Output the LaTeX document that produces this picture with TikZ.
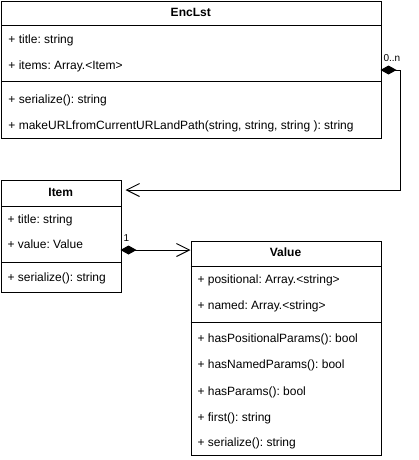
\documentclass[tikz,border=0pt]{standalone}
\usepackage{fontspec}
\setmainfont{Liberation Sans}
\usetikzlibrary{arrows.meta}
\frenchspacing
\begin{document}
\begin{tikzpicture}[x=1pt,y=-1pt,line width=1pt,
  classbox/.style={draw,rectangle,anchor=north west,inner sep=0pt},
  row/.style={anchor=west,inner sep=0pt,font=\fontsize{12pt}{14pt}\selectfont,text height=8.6pt,text depth=2.6pt},
  head/.style={inner sep=0pt,font=\fontsize{12pt}{14pt}\selectfont\bfseries,text height=8.6pt,text depth=2.6pt},
  mult/.style={inner sep=0pt,font=\fontsize{10pt}{12pt}\selectfont},
  comp/.style={{Diamond[length=16pt,width=9pt]}-{Straight Barb[length=13pt,width=13pt]}}]
\useasboundingbox (0,0) rectangle (418,460);
% EncLst
\node[classbox,minimum width=379.5pt,minimum height=137pt] (enc) at (1,1) {};
\draw (1,26) -- (380.5,26);
\draw (1,81) -- (380.5,81);
\node[head] (enchead) at (190.75,13.5) {EncLst};
\node[row] (etitle) at (8,41) {+ title: string};
\node[row] (eitems) at (8,67) {+ items: Array.<Item>};
\node[row] (eser) at (8,100) {+ serialize(): string};
\node[row] (eurl) at (8,126) {+ makeURLfromCurrentURLandPath(string, string, string ): string};
% Item
\node[classbox,minimum width=119.5pt,minimum height=112pt] (item) at (1,180) {};
\draw (1,206) -- (120.5,206);
\draw (1,262) -- (120.5,262);
\node[head] (itemhead) at (60.75,193) {Item};
\node[row] (ititle) at (7,220) {+ title: string};
\node[row] (ivalue) at (7,245) {+ value: Value};
\node[row] (iser) at (7,278) {+ serialize(): string};
% Value
\node[classbox,minimum width=190pt,minimum height=214.5pt] (value) at (190.5,240.5) {};
\draw (190.5,266) -- (380.5,266);
\draw (190.5,322) -- (380.5,322);
\node[head] (valhead) at (285.5,253.5) {Value};
\node[row] (vpos) at (197,280) {+ positional: Array.<string>};
\node[row] (vnamed) at (197,306) {+ named: Array.<string>};
\node[row] (vhpp) at (197,339) {+ hasPositionalParams(): bool};
\node[row] (vhnp) at (197,365) {+ hasNamedParams(): bool};
\node[row] (vhp) at (197,392) {+ hasParams(): bool};
\node[row] (vfirst) at (197,418) {+ first(): string};
\node[row] (vser) at (197,443) {+ serialize(): string};
% connectors
\coordinate (encout) at (380.5,70);
\coordinate (bend) at (400,190);
\coordinate (itemin) at (125.5,190);
\draw[comp] (encout) -| (bend) -- (itemin);
\coordinate (itemout) at (120.5,250);
\draw[comp] (itemout) -- (value.west |- itemout);
\node[mult,anchor=south west] (m0n) at (383,62) {0..n};
\node[mult,anchor=south west] (m1) at (123,242) {1};
\end{tikzpicture}
\end{document}
